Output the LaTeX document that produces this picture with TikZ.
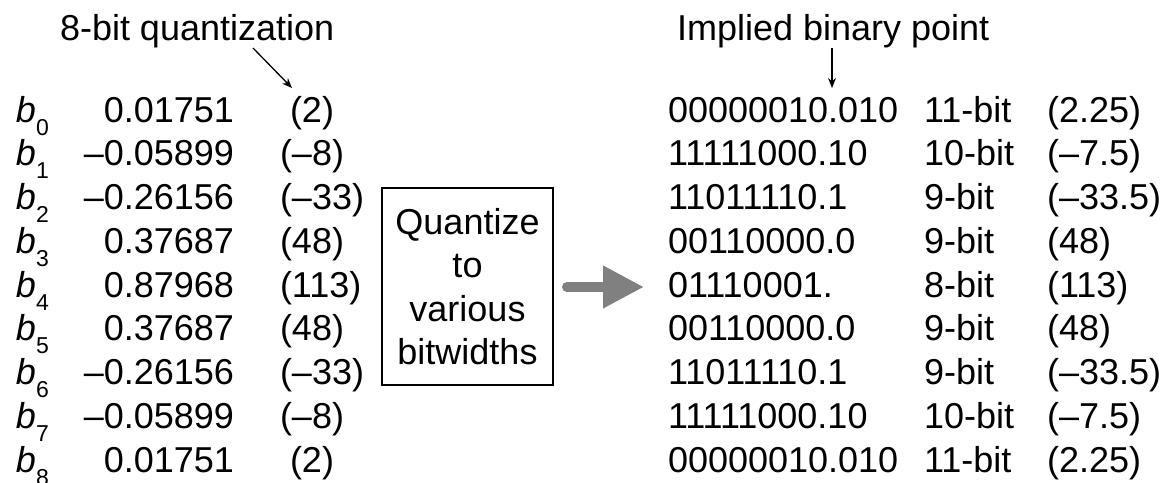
\documentclass[tikz,border=0pt]{standalone}
\usepackage{fontspec}
\setmainfont{Liberation Sans}
\usetikzlibrary{arrows.meta}
\definecolor{arrowgray}{RGB}{128,128,128}
\newcommand\bsub[1]{\textit{b}\raisebox{-13pt}{\fontsize{23}{23}\selectfont #1}}
\begin{document}
\begin{tikzpicture}[x=1pt,y=-1pt,
  txt/.style={anchor=base west, inner sep=0pt, outer sep=0pt, font=\fontsize{36}{43}\selectfont},
  num/.style={txt, anchor=base east},
  thinarrow/.style={line width=1.3pt, -{Stealth[length=10pt,width=8pt]}},
  bigarrow/.style={line width=10pt, line cap=round, draw=arrowgray, -{Triangle[length=41pt,width=40pt]}},
  qbox/.style={draw, line width=1.6pt, minimum width=171pt, minimum height=197pt, inner sep=0pt, align=center, font=\fontsize{36}{43.3}\selectfont}]
\useasboundingbox (0,0) rectangle (1166,482);

\node[txt] (q8) at (60,40) {8-bit quantization};
\node[txt] (ibp) at (677,40) {Implied binary point};

\foreach \i/\v/\q in {0/0.01751/{\hspace{10pt}(2)},1/–0.05899/(–8),2/–0.26156/(–33),3/0.37687/(48),4/0.87968/(113),5/0.37687/(48),6/–0.26156/(–33),7/–0.05899/(–8),8/0.01751/{\hspace{10pt}(2)}}{
  \node[txt] (b\i) at (16,122+43.75*\i) {\bsub{\i}};
  \node[num] (v\i) at (234,122+43.75*\i) {\v};
  \node[txt] (p\i) at (280,122+43.75*\i) {\q};
}

\foreach \i/\a/\w/\r in {0/00000010.010/11-bit/(2.25),1/11111000.10/10-bit/(–7.5),2/11011110.1/9-bit/(–33.5),3/00110000.0/9-bit/(48),4/01110001./8-bit/(113),5/00110000.0/9-bit/(48),6/11011110.1/9-bit/(–33.5),7/11111000.10/10-bit/(–7.5),8/00000010.010/11-bit/(2.25)}{
  \node[txt] (r\i) at (668,122+43.75*\i) {\a};
  \node[txt] (w\i) at (924,122+43.75*\i) {\w};
  \node[txt] (s\i) at (1047,122+43.75*\i) {\r};
}

\node[qbox] (box) at (467.5,286.5) {Quantize\\to\\various\\bitwidths};

\coordinate (q8from) at (253,48);
\coordinate (q8to) at (292,88);
\draw[thinarrow] (q8from) -- (q8to);
\coordinate (ibfrom) at (832,48);
\coordinate (ibto) at (832,88);
\draw[thinarrow] (ibfrom) -- (ibto);

\coordinate (gfrom) at (567,287);
\coordinate (gto) at (644,287);
\draw[bigarrow] (gfrom) -- (gto);
\end{tikzpicture}
\end{document}
